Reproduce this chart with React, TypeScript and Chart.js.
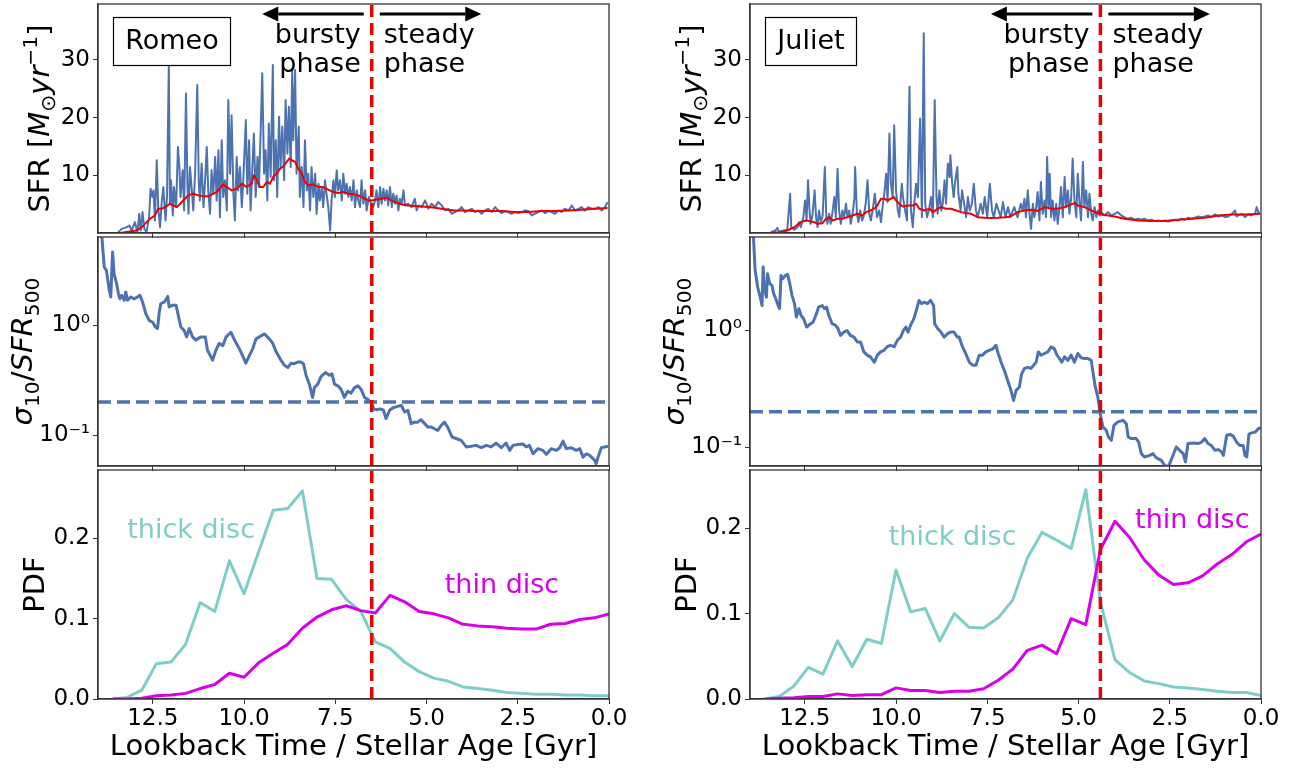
import React, { useEffect, useRef } from 'react';
import { Chart, registerables } from 'chart.js';

Chart.register(...registerables);

const FONT = '"DejaVu Sans", "Liberation Sans", sans-serif';
Chart.defaults.font.family = FONT;
Chart.defaults.color = '#000';

// ---------------- data ----------------
const romeoTransition = 6.5;
const julietTransition = 4.4;
const burstinessThreshold = 0.2;

const romeoSfr: [number, number][] = [
  [13.45,0.1],[13.35,0.72],[13.21,1.01],[13.14,1.30],[13.08,0.43],[12.99,1.88],[12.92,0.14],[12.87,3.33],[12.83,0.43],[12.78,3.62],[12.73,0.72],[12.67,0.14],[12.60,2.75],[12.56,7.68],[12.51,6.23],[12.48,7.39],[12.44,2.17],[12.39,12.61],[12.35,4.49],[12.30,1.01],[12.25,5.65],[12.21,7.97],[12.15,2.17],[12.11,6.23],[12.06,29.13],[12.03,5.07],[12.00,9.13],[11.95,3.04],[11.92,7.97],[11.86,4.49],[11.81,14.93],[11.77,11.45],[11.74,6.23],[11.68,10.87],[11.64,3.91],[11.59,24.20],[11.55,8.55],[11.52,3.33],[11.48,11.45],[11.43,7.39],[11.39,3.91],[11.34,10.29],[11.28,25.65],[11.24,9.13],[11.21,5.65],[11.16,12.03],[11.11,4.49],[11.07,8.55],[11.02,14.93],[10.98,7.39],[10.93,3.33],[10.89,10.87],[10.84,6.81],[10.79,13.19],[10.75,5.65],[10.70,14.35],[10.66,2.75],[10.61,16.09],[10.57,6.23],[10.52,9.13],[10.47,3.91],[10.43,23.04],[10.38,10.29],[10.34,20.43],[10.29,6.81],[10.25,2.17],[10.20,13.19],[10.16,7.39],[10.11,11.45],[10.06,4.49],[10.02,9.13],[9.95,19.57],[9.91,6.81],[9.86,16.09],[9.82,3.91],[9.77,11.45],[9.73,17.25],[9.68,6.23],[9.63,13.19],[9.59,7.97],[9.54,18.41],[9.50,27.68],[9.45,10.29],[9.41,14.35],[9.36,5.65],[9.32,18.99],[9.27,9.71],[9.21,29.13],[9.18,9.13],[9.13,16.09],[9.09,6.23],[9.04,20.14],[9.00,11.45],[8.95,18.41],[8.90,9.13],[8.86,23.04],[8.81,13.77],[8.77,21.88],[8.72,11.45],[8.68,28.26],[8.65,16.09],[8.60,28.26],[8.56,10.29],[8.50,18.41],[8.47,6.23],[8.42,11.45],[8.37,4.49],[8.33,16.09],[8.28,7.39],[8.24,10.29],[8.19,3.91],[8.15,11.45],[8.10,6.23],[8.05,10.29],[8.01,3.33],[7.96,8.55],[7.92,5.65],[7.87,7.97],[7.83,4.49],[7.78,9.13],[7.74,6.81],[7.69,4.49],[7.64,0.43],[7.60,5.65],[7.55,9.13],[7.51,6.23],[7.46,10.87],[7.42,7.39],[7.37,9.13],[7.32,5.65],[7.28,10.29],[7.23,6.81],[7.19,8.55],[7.14,6.23],[7.10,7.97],[7.05,5.65],[7.00,9.13],[6.96,4.49],[6.91,7.39],[6.87,5.65],
  [6.82,4.49],[6.78,9.13],[6.73,5.07],[6.68,7.39],[6.64,3.91],[6.58,6.23],[6.52,5.07],[6.46,4.49],[6.41,5.65],[6.37,7.39],[6.32,4.49],[6.27,7.97],[6.23,5.07],[6.18,7.68],[6.14,5.65],[6.09,7.39],[6.05,4.78],[6.00,7.97],[5.95,4.49],[5.91,6.81],[5.86,5.07],[5.82,6.52],[5.77,3.91],[5.73,5.94],[5.68,5.07],[5.63,7.39],[5.59,4.78],[5.50,5.07],[5.41,4.49],[5.32,5.94],[5.27,3.91],[5.22,4.78],[5.13,4.49],[5.04,5.65],[5.00,5.07],[4.95,4.20],[4.86,5.07],[4.77,4.49],[4.68,5.36],[4.58,4.78],[4.49,3.91],[4.40,4.20],[4.31,3.33],[4.22,3.62],[4.13,3.91],[4.04,4.49],[3.95,3.62],[3.85,3.91],[3.76,4.20],[3.67,3.62],[3.58,3.91],[3.49,3.33],[3.40,3.91],[3.31,4.20],[3.21,3.62],[3.12,4.49],[3.03,3.91],[2.94,3.45],[2.85,3.80],[2.76,3.62],[2.67,3.33],[2.58,3.62],[2.48,3.45],[2.39,3.62],[2.30,3.91],[2.21,3.80],[2.12,3.04],[2.03,3.33],[1.94,3.62],[1.84,3.91],[1.75,3.45],[1.66,3.80],[1.57,3.62],[1.48,3.33],[1.39,3.91],[1.30,3.62],[1.21,4.20],[1.11,3.91],[1.02,4.78],[0.93,3.91],[0.84,4.20],[0.75,4.49],[0.66,3.91],[0.57,4.49],[0.47,4.20],[0.38,4.20],[0.29,4.49],[0.20,3.91],[0.11,4.49],[0.04,5.36],
];

const romeoSfrSmooth: [number, number][] = [
  [13.35,0.03],[13.08,0.32],[12.94,0.43],[12.80,1.01],[12.67,1.88],[12.58,2.46],[12.44,3.04],[12.35,4.20],[12.26,4.20],[12.16,4.49],[12.03,5.07],[11.94,4.78],[11.84,4.49],[11.75,5.07],[11.62,5.94],[11.53,6.52],[11.39,6.81],[11.25,6.52],[11.11,6.35],[10.98,6.35],[10.84,6.81],[10.75,7.10],[10.66,7.68],[10.57,8.43],[10.47,7.97],[10.34,7.39],[10.20,7.68],[10.06,8.55],[9.93,7.97],[9.79,8.55],[9.73,10.00],[9.65,9.13],[9.56,7.97],[9.47,7.97],[9.38,8.84],[9.29,8.55],[9.20,9.71],[9.11,10.29],[9.01,11.16],[8.92,11.57],[8.83,12.32],[8.76,12.90],[8.69,12.61],[8.60,12.32],[8.51,11.16],[8.42,10.29],[8.33,8.84],[8.24,8.26],[8.10,8.43],[7.96,7.97],[7.83,7.97],[7.69,7.51],[7.55,7.10],[7.42,6.93],[7.28,7.10],[7.14,6.81],[7.00,6.70],[6.87,6.52],[6.78,6.23],[6.59,5.65],[6.50,5.65],[6.41,5.77],[6.23,5.94],[6.09,6.12],[6.00,5.77],[5.86,5.36],[5.68,4.96],[5.50,4.78],[5.32,4.67],[5.13,4.61],[4.95,4.49],[4.77,4.38],[4.58,4.20],[4.40,4.03],[4.22,3.91],[3.95,3.91],[3.67,3.80],[3.31,3.80],[2.94,3.80],[2.58,3.62],[2.21,3.62],[1.84,3.80],[1.48,3.80],[1.11,3.91],[0.75,4.03],[0.38,4.20],[0.04,4.32],
];

const julietSfr: [number, number][] = [
  [13.43,0.14],[13.30,0.43],[13.25,0.90],[13.21,0.26],[13.07,0.43],[12.98,0.55],[12.90,6.81],[12.87,1.01],[12.79,0.55],[12.70,1.01],[12.66,1.88],[12.61,1.01],[12.54,2.75],[12.49,5.65],[12.45,2.17],[12.41,9.13],[12.37,3.91],[12.34,1.59],[12.29,3.04],[12.23,7.39],[12.19,2.75],[12.15,1.01],[12.11,3.91],[12.06,1.88],[12.01,3.04],[11.95,11.45],[11.91,2.75],[11.88,1.59],[11.83,3.33],[11.79,1.59],[11.74,3.62],[11.69,6.23],[11.65,2.75],[11.60,11.16],[11.56,3.91],[11.51,1.59],[11.47,3.91],[11.42,2.75],[11.37,5.07],[11.33,2.75],[11.28,3.91],[11.24,1.59],[11.19,3.33],[11.14,5.94],[11.12,11.45],[11.07,3.33],[11.03,1.88],[10.98,3.91],[10.93,2.17],[10.89,2.75],[10.83,5.07],[10.78,9.13],[10.73,3.33],[10.69,2.17],[10.64,3.91],[10.58,6.81],[10.52,2.75],[10.46,3.91],[10.41,1.88],[10.37,4.49],[10.32,6.81],[10.27,10.29],[10.23,5.36],[10.18,17.25],[10.14,8.55],[10.09,6.23],[10.05,18.70],[10.00,7.39],[9.95,3.91],[9.91,2.75],[9.84,8.55],[9.81,6.23],[9.75,3.91],[9.70,2.17],[9.63,25.36],[9.59,3.91],[9.54,1.01],[9.50,5.07],[9.45,8.55],[9.40,6.23],[9.34,19.86],[9.29,2.75],[9.24,34.64],[9.20,5.07],[9.15,2.75],[9.10,3.91],[9.04,6.23],[8.99,2.75],[8.94,23.04],[8.89,6.23],[8.86,3.33],[8.81,7.39],[8.76,3.91],[8.72,5.07],[8.67,9.13],[8.63,5.07],[8.58,12.03],[8.53,9.71],[8.51,13.48],[8.46,8.55],[8.42,6.23],[8.38,8.84],[8.32,11.45],[8.29,6.81],[8.23,3.91],[8.19,7.39],[8.12,4.49],[8.08,2.75],[8.03,6.23],[7.98,3.91],[7.92,5.07],[7.87,8.55],[7.81,3.91],[7.76,2.75],[7.68,5.07],[7.62,3.33],[7.57,6.23],[7.50,2.75],[7.43,8.55],[7.37,3.91],[7.32,2.75],[7.25,5.07],[7.19,3.91],[7.13,2.75],[7.07,5.36],[7.00,2.75],[6.93,4.49],[6.87,2.75],
  [6.76,4.49],[6.67,2.75],[6.58,5.07],[6.53,3.91],[6.48,5.94],[6.44,2.75],[6.39,7.39],[6.35,3.91],[6.30,0.72],[6.25,5.07],[6.21,2.75],[6.16,4.49],[6.12,7.10],[6.07,2.17],[6.03,8.84],[5.98,3.33],[5.93,5.65],[5.89,2.75],[5.86,13.19],[5.82,4.49],[5.79,10.29],[5.75,2.75],[5.71,5.65],[5.66,2.17],[5.61,5.07],[5.57,1.59],[5.52,4.49],[5.48,7.97],[5.43,2.75],[5.38,9.71],[5.34,4.49],[5.29,7.39],[5.25,3.33],[5.20,6.23],[5.16,12.90],[5.11,5.65],[5.06,2.75],[5.02,10.29],[4.97,5.07],[4.93,2.17],[4.88,12.32],[4.84,4.49],[4.79,7.39],[4.74,2.75],[4.70,6.81],[4.65,3.33],[4.61,2.17],[4.56,4.49],[4.51,2.75],[4.47,3.91],[4.42,3.04],[4.38,3.62],[4.29,3.04],[4.19,3.62],[4.10,3.04],[4.01,3.33],[3.92,3.62],[3.83,3.04],[3.74,2.75],[3.64,2.46],[3.55,2.64],[3.46,2.29],[3.37,2.46],[3.28,2.29],[3.19,2.46],[3.10,2.17],[3.00,2.29],[2.91,2.06],[2.82,2.17],[2.73,2.06],[2.64,2.17],[2.55,2.00],[2.45,2.17],[2.36,2.29],[2.27,2.17],[2.18,2.46],[2.09,2.29],[2.00,2.64],[1.90,2.46],[1.81,2.64],[1.72,2.87],[1.63,2.75],[1.54,2.87],[1.45,3.04],[1.36,2.75],[1.26,3.22],[1.17,2.87],[1.08,3.04],[0.99,2.75],[0.90,2.87],[0.81,3.22],[0.71,3.91],[0.67,2.87],[0.62,3.04],[0.53,3.33],[0.44,2.75],[0.35,3.22],[0.26,3.04],[0.16,3.33],[0.12,4.49],[0.07,3.62],[0.03,3.22],
];

const julietSfrSmooth: [number, number][] = [
  [13.43,0.03],[13.16,0.14],[12.98,0.43],[12.79,1.01],[12.61,1.88],[12.47,2.17],[12.38,2.06],[12.24,1.88],[12.15,1.59],[12.01,1.71],[11.92,2.46],[11.83,2.75],[11.74,2.17],[11.60,2.46],[11.47,2.46],[11.33,2.75],[11.19,3.04],[11.05,3.33],[10.92,3.04],[10.82,3.62],[10.69,3.91],[10.55,4.38],[10.41,5.94],[10.32,5.94],[10.23,5.65],[10.14,5.94],[10.06,6.23],[10.00,5.65],[9.91,5.07],[9.82,4.61],[9.68,4.78],[9.54,4.78],[9.45,5.07],[9.36,4.20],[9.22,3.91],[9.08,4.20],[8.99,3.62],[8.86,4.20],[8.76,4.49],[8.63,4.20],[8.49,4.20],[8.35,3.91],[8.21,3.62],[8.08,3.45],[7.94,3.33],[7.76,2.75],[7.57,2.64],[7.39,2.58],[7.21,2.64],[7.02,2.75],[6.86,2.87],[6.67,3.62],[6.48,3.91],[6.30,4.03],[6.12,3.80],[5.93,4.49],[5.75,4.20],[5.57,4.20],[5.38,4.49],[5.20,4.96],[5.11,5.19],[5.02,4.78],[4.84,4.49],[4.65,3.91],[4.47,3.45],[4.38,3.22],[4.19,3.04],[4.01,2.87],[3.74,2.46],[3.37,2.17],[3.00,2.06],[2.64,2.06],[2.27,2.29],[1.90,2.46],[1.54,2.64],[1.17,3.04],[0.81,3.22],[0.44,3.22],[0.03,3.33],
];

const romeoBurstiness: [number, number][] = [
  [13.93,9.0],[13.83,3.37],[13.77,3.14],[13.69,2.07],[13.65,1.80],[13.60,4.61],[13.56,2.93],[13.49,2.38],[13.44,1.93],[13.40,1.73],[13.35,1.86],[13.28,1.68],[13.24,2.00],[13.19,1.68],[13.10,1.80],[13.01,1.73],[12.92,1.80],[12.85,1.86],[12.78,1.62],[12.69,1.27],[12.60,1.10],[12.50,1.06],[12.43,0.96],[12.37,0.93],[12.32,1.31],[12.28,1.56],[12.18,1.62],[12.09,1.82],[12.05,1.46],[11.96,1.51],[11.86,1.51],[11.82,1.31],[11.73,0.96],[11.64,0.89],[11.57,0.78],[11.50,0.93],[11.41,0.78],[11.32,0.73],[11.18,0.78],[11.06,0.78],[11.00,0.59],[10.86,0.48],[10.77,0.59],[10.68,0.68],[10.58,0.65],[10.49,0.78],[10.36,0.86],[10.26,0.73],[10.13,0.61],[10.02,0.51],[9.95,0.45],[9.85,0.53],[9.76,0.61],[9.67,0.75],[9.58,0.78],[9.44,0.83],[9.31,0.75],[9.21,0.68],[9.12,0.57],[8.99,0.48],[8.89,0.43],[8.80,0.41],[8.71,0.45],[8.62,0.445],[8.53,0.46],[8.44,0.46],[8.37,0.445],[8.30,0.35],[8.21,0.29],[8.12,0.22],[8.07,0.27],[7.98,0.29],[7.89,0.34],[7.77,0.37],[7.66,0.35],[7.59,0.36],[7.52,0.29],[7.43,0.28],[7.34,0.26],[7.25,0.22],[7.16,0.25],[7.07,0.24],[6.97,0.27],[6.88,0.28],[6.79,0.26],[6.70,0.22],[6.61,0.21],[6.52,0.20],[6.45,0.173],[6.36,0.170],[6.27,0.173],[6.18,0.168],[6.11,0.141],[6.01,0.168],[5.92,0.177],[5.79,0.182],[5.69,0.186],[5.60,0.162],[5.51,0.168],[5.42,0.127],[5.33,0.131],[5.24,0.131],[5.15,0.138],[5.05,0.127],[4.96,0.118],[4.87,0.118],[4.78,0.114],[4.69,0.110],[4.60,0.122],[4.51,0.131],[4.42,0.118],[4.30,0.096],[4.19,0.093],[4.05,0.0895],[3.91,0.078],[3.78,0.079],[3.64,0.0805],[3.50,0.0767],[3.36,0.0805],[3.23,0.078],[3.09,0.0846],[2.95,0.0767],[2.82,0.0846],[2.72,0.0726],[2.63,0.0805],[2.50,0.082],[2.36,0.083],[2.27,0.078],[2.18,0.0805],[2.08,0.0676],[1.95,0.0752],[1.81,0.0726],[1.72,0.0667],[1.58,0.0752],[1.44,0.0726],[1.35,0.0767],[1.26,0.088],[1.17,0.0752],[1.03,0.0767],[0.90,0.0726],[0.80,0.0752],[0.71,0.063],[0.62,0.0676],[0.53,0.0654],[0.39,0.0589],[0.35,0.0549],[0.30,0.063],[0.21,0.0767],[0.12,0.078],[0.03,0.079],
];

const julietBurstiness: [number, number][] = [
  [13.93,9.0],[13.86,3.24],[13.79,2.33],[13.72,1.91],[13.67,1.62],[13.64,3.45],[13.61,2.33],[13.55,1.91],[13.52,3.03],[13.46,2.49],[13.40,2.41],[13.35,2.04],[13.31,1.91],[13.26,1.73],[13.21,1.57],[13.19,1.52],[13.15,2.93],[13.10,2.75],[13.03,2.93],[12.97,2.99],[12.91,2.49],[12.85,1.98],[12.78,1.68],[12.73,1.29],[12.66,1.52],[12.60,1.33],[12.53,1.25],[12.45,1.06],[12.36,1.12],[12.27,1.17],[12.18,1.38],[12.12,1.57],[12.02,1.62],[11.96,1.52],[11.90,1.57],[11.84,1.33],[11.75,1.13],[11.66,1.10],[11.59,1.03],[11.52,0.90],[11.43,0.96],[11.34,0.99],[11.25,0.90],[11.15,0.87],[11.06,0.79],[10.97,0.79],[10.88,0.65],[10.79,0.61],[10.70,0.59],[10.59,0.53],[10.51,0.61],[10.42,0.65],[10.33,0.67],[10.24,0.72],[10.15,0.74],[10.05,0.72],[9.96,0.82],[9.87,0.87],[9.80,0.99],[9.73,1.06],[9.67,0.96],[9.60,1.10],[9.51,1.25],[9.43,1.52],[9.37,1.79],[9.30,1.68],[9.23,1.73],[9.14,1.68],[9.05,1.79],[8.97,1.62],[8.94,1.13],[8.86,1.03],[8.77,0.96],[8.68,0.87],[8.59,0.93],[8.50,0.96],[8.41,0.96],[8.32,0.87],[8.27,0.87],[8.18,0.72],[8.09,0.63],[7.99,0.53],[7.90,0.50],[7.81,0.50],[7.72,0.61],[7.63,0.61],[7.54,0.65],[7.45,0.67],[7.35,0.69],[7.26,0.74],[7.20,0.63],[7.12,0.53],[7.03,0.45],[6.94,0.37],[6.85,0.305],[6.78,0.25],[6.71,0.305],[6.62,0.326],[6.56,0.42],[6.48,0.47],[6.39,0.48],[6.30,0.47],[6.23,0.50],[6.16,0.53],[6.10,0.65],[6.03,0.61],[5.93,0.63],[5.84,0.65],[5.75,0.72],[5.66,0.69],[5.59,0.61],[5.52,0.57],[5.46,0.53],[5.38,0.59],[5.29,0.55],[5.20,0.61],[5.11,0.53],[5.02,0.63],[4.93,0.58],[4.84,0.57],[4.74,0.57],[4.65,0.55],[4.61,0.45],[4.54,0.326],[4.47,0.267],[4.42,0.206],[4.38,0.175],[4.33,0.148],[4.24,0.139],[4.18,0.122],[4.10,0.114],[4.03,0.153],[3.92,0.164],[3.78,0.169],[3.69,0.158],[3.64,0.122],[3.55,0.118],[3.42,0.118],[3.35,0.110],[3.28,0.0878],[3.19,0.0822],[3.05,0.0849],[2.96,0.0878],[2.89,0.0822],[2.82,0.0795],[2.73,0.0769],[2.64,0.0697],[2.56,0.0675],[2.50,0.0721],[2.41,0.0849],[2.32,0.100],[2.23,0.0937],[2.13,0.0878],[2.07,0.0745],[2.00,0.107],[1.86,0.108],[1.72,0.107],[1.63,0.110],[1.54,0.118],[1.45,0.107],[1.36,0.103],[1.26,0.0937],[1.17,0.095],[1.08,0.0906],[1.03,0.0849],[0.94,0.126],[0.85,0.128],[0.76,0.124],[0.67,0.110],[0.58,0.103],[0.49,0.103],[0.44,0.0849],[0.39,0.0822],[0.33,0.129],[0.26,0.132],[0.16,0.134],[0.07,0.144],[0.01,0.146],
];

const pdfAges = [13.6, 13.2, 12.8, 12.4, 12.0, 11.6, 11.2, 10.8, 10.4, 10.0, 9.6, 9.2, 8.8, 8.4, 8.0, 7.6, 7.2, 6.8, 6.4, 6.0, 5.6, 5.2, 4.8, 4.4, 4.0, 3.6, 3.2, 2.8, 2.4, 2.0, 1.6, 1.2, 0.8, 0.4, 0.0];
const romeoThick = [0.000, 0.002, 0.011, 0.044, 0.046, 0.068, 0.120, 0.109, 0.172, 0.131, 0.183, 0.235, 0.237, 0.259, 0.150, 0.149, 0.124, 0.109, 0.071, 0.063, 0.046, 0.034, 0.026, 0.022, 0.015, 0.013, 0.011, 0.008, 0.007, 0.006, 0.006, 0.005, 0.005, 0.004, 0.004];
const romeoThin = [0.000, 0.000, 0.001, 0.004, 0.005, 0.007, 0.013, 0.018, 0.032, 0.027, 0.045, 0.057, 0.068, 0.088, 0.102, 0.111, 0.116, 0.110, 0.107, 0.129, 0.121, 0.109, 0.106, 0.101, 0.093, 0.091, 0.090, 0.088, 0.087, 0.087, 0.093, 0.094, 0.099, 0.101, 0.106];
const julietThick = [0.000, 0.003, 0.015, 0.037, 0.029, 0.068, 0.038, 0.070, 0.065, 0.151, 0.102, 0.106, 0.068, 0.100, 0.084, 0.083, 0.095, 0.116, 0.165, 0.195, 0.186, 0.176, 0.245, 0.114, 0.046, 0.031, 0.021, 0.018, 0.014, 0.013, 0.011, 0.009, 0.0075, 0.0075, 0.004];
const julietThin = [0.000, 0.001, 0.0015, 0.003, 0.003, 0.006, 0.004, 0.005, 0.005, 0.013, 0.010, 0.010, 0.0075, 0.009, 0.009, 0.012, 0.022, 0.035, 0.057, 0.063, 0.053, 0.094, 0.087, 0.175, 0.208, 0.189, 0.163, 0.145, 0.134, 0.136, 0.144, 0.158, 0.169, 0.184, 0.193];

const xTickValues = [12.5, 10, 7.5, 5, 2.5, 0];
const sfrTickValues = [10, 20, 30];
const sigmaTickValues = [0.1, 1];
const pdfTickValues = [0, 0.1, 0.2];
const ageRange = [0, 14];
const sfrRange = [0, 39.7];
const romeoSigmaRange = [0.0523, 6.31];
const julietSigmaRange = [0.0688, 6.24];
const romeoPdfRange = [0, 0.285];
const julietPdfRange = [0, 0.268];

const romeoThickLabel = [13.2, 0.2];
const romeoThinLabel = [4.5, 0.132];
const julietThickLabel = [10.2, 0.18];
const julietThinLabel = [3.45, 0.2];

const phaseArrowGap = 0.22;
const phaseArrowLength = 3.0;

// ---------------- styles ----------------
const BLUE = '#4c72b0';
const RED = '#ee0000';
const CYAN = '#7ecdc8';
const MAGENTA = '#d800ea';
const SPINE = '#333333';
const TITLE_SIZE = 29;
const ANNO_SIZE = 27;
const TICK_SIZE = 23;

const AXIS_W = 98;
const PLOT_W = 511;
const PLOT_H = 229;
const PAD_T = 4;
const PAD_R = 22;
const COL_LEFT = [0, 652];
const ROW_TOP = [4, 237, 470];
const ROW_BOTTOM = [6, 6, 70];

type Seg = { t: string; it?: boolean; s?: number; dy?: number };

const SFR_TITLE: Seg[] = [
  { t: 'SFR [' },
  { t: 'M', it: true },
  { t: '\u2299', s: 0.7, dy: 0.2 },
  { t: 'yr', it: true },
  { t: '\u22121', s: 0.7, dy: -0.42 },
  { t: ']' },
];
const SIGMA_TITLE: Seg[] = [
  { t: '\u03c3', it: true },
  { t: '10', s: 0.7, dy: 0.22 },
  { t: '/' },
  { t: 'SFR', it: true },
  { t: '500', s: 0.7, dy: 0.22 },
];
const PDF_TITLE: Seg[] = [{ t: 'PDF' }];

function drawRich(ctx: CanvasRenderingContext2D, segs: Seg[], cx: number, cy: number, size: number) {
  ctx.save();
  ctx.translate(cx, cy);
  ctx.rotate(-Math.PI / 2);
  const fontOf = (s: Seg) => `${s.it ? 'italic ' : ''}${(size * (s.s ?? 1)).toFixed(1)}px ${FONT}`;
  let total = 0;
  const widths = segs.map((s) => {
    ctx.font = fontOf(s);
    const w = ctx.measureText(s.t).width;
    total += w;
    return w;
  });
  let x = -total / 2;
  ctx.fillStyle = '#000';
  ctx.textAlign = 'left';
  ctx.textBaseline = 'alphabetic';
  segs.forEach((s, i) => {
    ctx.font = fontOf(s);
    ctx.fillText(s.t, x, size * 0.36 + (s.dy ?? 0) * size);
    x += widths[i];
  });
  ctx.restore();
}

function drawArrow(ctx: CanvasRenderingContext2D, x0: number, x1: number, y: number) {
  const dir = Math.sign(x1 - x0);
  const hl = 16;
  const hw = 7.5;
  ctx.strokeStyle = '#000';
  ctx.lineWidth = 3;
  ctx.beginPath();
  ctx.moveTo(x0, y);
  ctx.lineTo(x1 - dir * hl, y);
  ctx.stroke();
  ctx.fillStyle = '#000';
  ctx.beginPath();
  ctx.moveTo(x1, y);
  ctx.lineTo(x1 - dir * hl, y - hw);
  ctx.lineTo(x1 - dir * hl, y + hw);
  ctx.closePath();
  ctx.fill();
}

const toXY = (pts: [number, number][]) => pts.map(([x, y]) => ({ x, y }));
const zipXY = (xs: number[], ys: number[]) => xs.map((x, i) => ({ x, y: ys[i] }));

function lineDs(data: any[], color: string, width: number, order: number, dash: number[] = []) {
  return {
    data,
    borderColor: color,
    backgroundColor: color,
    borderWidth: width,
    borderDash: dash,
    pointRadius: 0,
    pointHoverRadius: 0,
    tension: 0,
    fill: false,
    order,
    borderJoinStyle: 'round',
  };
}

type Galaxy = {
  name: string;
  transition: number;
  sfr: [number, number][];
  sfrSmooth: [number, number][];
  sigma: [number, number][];
  sigmaRange: number[];
  thick: number[];
  thin: number[];
  pdfRange: number[];
  thickLabel: number[];
  thinLabel: number[];
};

const galaxies: Galaxy[] = [
  { name: 'Romeo', transition: romeoTransition, sfr: romeoSfr, sfrSmooth: romeoSfrSmooth, sigma: romeoBurstiness, sigmaRange: romeoSigmaRange, thick: romeoThick, thin: romeoThin, pdfRange: romeoPdfRange, thickLabel: romeoThickLabel, thinLabel: romeoThinLabel },
  { name: 'Juliet', transition: julietTransition, sfr: julietSfr, sfrSmooth: julietSfrSmooth, sigma: julietBurstiness, sigmaRange: julietSigmaRange, thick: julietThick, thin: julietThin, pdfRange: julietPdfRange, thickLabel: julietThickLabel, thinLabel: julietThinLabel },
];

const setTicks = (vals: number[]) => (scale: any) => {
  scale.ticks = vals.map((v) => ({ value: v }));
};

function buildConfig(g: Galaxy, row: number): any {
  const bottomH = ROW_BOTTOM[row];
  const datasets: any[] = [];
  let yMin = 0;
  let yMax = 1;
  let yScale: any;
  let title: Seg[] = PDF_TITLE;
  let titleOffset = 64;
  const extraPlugins: any[] = [];

  const yCommon = {
    position: 'left',
    grid: { display: true, drawOnChartArea: false, drawTicks: true, tickLength: 5, color: SPINE, tickColor: SPINE, lineWidth: 1 },
    border: { display: true, color: SPINE, width: 1.3 },
    afterFit: (s: any) => {
      s.width = AXIS_W;
      s.paddingTop = 0;
      s.paddingBottom = 0;
    },
  };

  if (row === 0) {
    yMin = sfrRange[0];
    yMax = sfrRange[1];
    datasets.push(lineDs(toXY(g.sfr), BLUE, 2, 5));
    datasets.push(lineDs(toXY(g.sfrSmooth), RED, 2, 3));
    yScale = {
      ...yCommon,
      type: 'linear',
      min: yMin,
      max: yMax,
      afterBuildTicks: setTicks(sfrTickValues),
      ticks: { font: { size: TICK_SIZE }, color: '#000', padding: 3, callback: (v: any) => String(v) },
    };
    title = SFR_TITLE;
    titleOffset = 59;
    extraPlugins.push({
      id: 'sfrAnno',
      afterDatasetsDraw(chart: any) {
        const { ctx, chartArea: a } = chart;
        const xs = chart.scales.x;
        ctx.save();
        ctx.font = `${ANNO_SIZE}px ${FONT}`;
        const w = ctx.measureText(g.name).width;
        const bx = Math.round(a.left + 15) + 0.5;
        const by = Math.round(a.top + 13) + 0.5;
        const bw = Math.round(w + 24);
        const bh = 48;
        ctx.fillStyle = '#fff';
        ctx.fillRect(bx, by, bw, bh);
        ctx.strokeStyle = '#000';
        ctx.lineWidth = 1.2;
        ctx.strokeRect(bx, by, bw, bh);
        ctx.fillStyle = '#000';
        ctx.textAlign = 'center';
        ctx.textBaseline = 'alphabetic';
        ctx.fillText(g.name, bx + bw / 2, a.top + 45);
        const xl = xs.getPixelForValue(g.transition);
        ctx.textAlign = 'right';
        ctx.fillText('bursty', xl - 11, a.top + 39);
        ctx.fillText('phase', xl - 11, a.top + 68);
        ctx.textAlign = 'left';
        ctx.fillText('steady', xl + 12, a.top + 39);
        ctx.fillText('phase', xl + 12, a.top + 68);
        const ay = a.top + 10;
        drawArrow(ctx, xs.getPixelForValue(g.transition + phaseArrowGap), xs.getPixelForValue(g.transition + phaseArrowLength), ay);
        drawArrow(ctx, xs.getPixelForValue(g.transition - phaseArrowGap), xs.getPixelForValue(g.transition - phaseArrowLength), ay);
        ctx.restore();
      },
    });
  } else if (row === 1) {
    yMin = g.sigmaRange[0];
    yMax = g.sigmaRange[1];
    datasets.push(lineDs(toXY(g.sigma), BLUE, 3, 5));
    datasets.push(
      lineDs(
        [
          { x: ageRange[1], y: burstinessThreshold },
          { x: ageRange[0], y: burstinessThreshold },
        ],
        BLUE,
        3.5,
        4,
        [13, 6]
      )
    );
    yScale = {
      ...yCommon,
      type: 'logarithmic',
      min: yMin,
      max: yMax,
      afterBuildTicks: setTicks(sigmaTickValues),
      ticks: {
        font: { size: TICK_SIZE },
        color: '#000',
        padding: 3,
        callback: (v: any) => (Math.abs(v - 1) < 1e-9 ? '10\u2070' : '10\u207b\u00b9'),
      },
    };
    title = SIGMA_TITLE;
    titleOffset = 76;
  } else {
    yMin = g.pdfRange[0];
    yMax = g.pdfRange[1];
    datasets.push(lineDs(zipXY(pdfAges, g.thick), CYAN, 3, 5));
    datasets.push(lineDs(zipXY(pdfAges, g.thin), MAGENTA, 3, 4));
    yScale = {
      ...yCommon,
      type: 'linear',
      min: yMin,
      max: yMax,
      afterBuildTicks: setTicks(pdfTickValues),
      ticks: { font: { size: TICK_SIZE }, color: '#000', padding: 3, callback: (v: any) => Number(v).toFixed(1) },
    };
    title = PDF_TITLE;
    titleOffset = 64;
    extraPlugins.push({
      id: 'pdfLabels',
      afterDatasetsDraw(chart: any) {
        const { ctx } = chart;
        const xs = chart.scales.x;
        const ys = chart.scales.y;
        ctx.save();
        ctx.font = `${ANNO_SIZE}px ${FONT}`;
        ctx.textAlign = 'left';
        ctx.textBaseline = 'alphabetic';
        ctx.fillStyle = CYAN;
        ctx.fillText('thick disc', xs.getPixelForValue(g.thickLabel[0]), ys.getPixelForValue(g.thickLabel[1]));
        ctx.fillStyle = MAGENTA;
        ctx.fillText('thin disc', xs.getPixelForValue(g.thinLabel[0]), ys.getPixelForValue(g.thinLabel[1]));
        ctx.restore();
      },
    });
  }

  // red dashed transition line, on top
  datasets.push(
    lineDs(
      [
        { x: g.transition, y: yMin },
        { x: g.transition, y: yMax },
      ],
      RED,
      3.5,
      0,
      [12, 6]
    )
  );

  const isBottom = row === 2;

  const framePlugin = {
    id: 'frame',
    afterDraw(chart: any) {
      const { ctx, chartArea: a } = chart;
      ctx.save();
      ctx.strokeStyle = SPINE;
      ctx.lineWidth = 1.3;
      ctx.strokeRect(a.left, a.top, a.right - a.left, a.bottom - a.top);
      ctx.restore();
      drawRich(ctx, title, a.left - titleOffset, (a.top + a.bottom) / 2, TITLE_SIZE);
    },
  };

  return {
    type: 'line',
    data: { datasets },
    plugins: [...extraPlugins, framePlugin],
    options: {
      animation: false,
      responsive: false,
      maintainAspectRatio: false,
      devicePixelRatio: 1,
      events: [],
      layout: { padding: { left: 0, top: PAD_T, right: PAD_R, bottom: 0 } },
      plugins: { legend: { display: false }, tooltip: { enabled: false }, title: { display: false } },
      scales: {
        x: {
          type: 'linear',
          position: 'bottom',
          min: ageRange[0],
          max: ageRange[1],
          reverse: true,
          afterBuildTicks: setTicks(xTickValues),
          afterFit: (s: any) => {
            s.height = bottomH;
            s.paddingLeft = 0;
            s.paddingRight = 0;
          },
          grid: { display: true, drawOnChartArea: false, drawTicks: true, tickLength: 5, color: SPINE, tickColor: SPINE, lineWidth: 1 },
          border: { display: true, color: SPINE, width: 1.3 },
          ticks: {
            display: isBottom,
            autoSkip: false,
            maxRotation: 0,
            minRotation: 0,
            font: { size: TICK_SIZE },
            color: '#000',
            padding: 1,
            callback: (v: any) => Number(v).toFixed(1),
          },
          title: {
            display: isBottom,
            text: 'Lookback Time / Stellar Age [Gyr]',
            font: { size: TITLE_SIZE },
            color: '#000',
            padding: { top: 0, bottom: 4 },
          },
        },
        y: yScale,
      },
    },
  };
}

function Panel({ galaxy, row, col }: { galaxy: Galaxy; row: number; col: number }) {
  const ref = useRef<HTMLCanvasElement | null>(null);
  const width = AXIS_W + PLOT_W + PAD_R;
  const height = PAD_T + PLOT_H + ROW_BOTTOM[row];
  const left = COL_LEFT[col];
  const top = ROW_TOP[row] - PAD_T;
  useEffect(() => {
    if (!ref.current) return;
    const chart = new Chart(ref.current, buildConfig(galaxy, row));
    return () => chart.destroy();
  }, [galaxy, row]);
  return (
    <canvas
      ref={ref}
      width={width}
      height={height}
      style={{ position: 'absolute', left, top, width, height, display: 'block' }}
    />
  );
}

export default function App() {
  useEffect(() => {
    document.body.style.overflow = 'hidden';
  }, []);
  return (
    <div style={{ position: 'absolute', left: 0, top: 0, width: 1299, height: 769, background: '#fff', overflow: 'hidden' }}>
      {galaxies.map((g, col) =>
        [0, 1, 2].map((row) => <Panel key={`${g.name}-${row}`} galaxy={g} row={row} col={col} />)
      )}
    </div>
  );
}
